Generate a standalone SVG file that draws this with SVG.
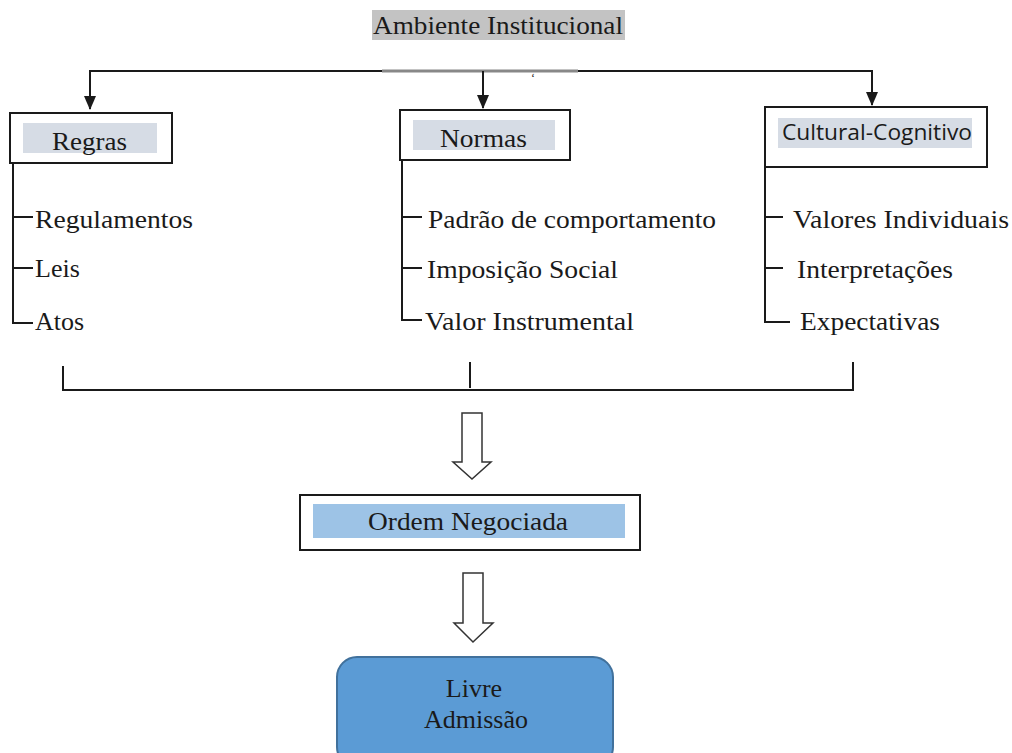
<svg xmlns="http://www.w3.org/2000/svg" width="1012" height="753" viewBox="0 0 1012 753">
<style>
.t{font-family:"Liberation Serif","Times New Roman",serif;font-size:26px;fill:#1a1a1a}
.s{font-family:"Open Sans","Liberation Sans",sans-serif;font-size:21px;fill:#1a1a1a}
.box{fill:#fff;stroke:#1a1a1a;stroke-width:2}
.ln{stroke:#1a1a1a;stroke-width:2;fill:none}
.hol{fill:#fff;stroke:#333;stroke-width:1.5;stroke-linejoin:miter}
</style>
<defs>
<marker id="ah" markerWidth="14" markerHeight="12" refX="13" refY="6" orient="auto" markerUnits="userSpaceOnUse" viewBox="0 0 14 12">
<path d="M0,0 L14,6 L0,12 Z" fill="#1a1a1a"/>
</marker>
</defs>
<rect width="1012" height="753" fill="#fff"/>
<g id="title">
<rect x="372" y="10" width="253" height="30" fill="#c3c3c3"/>
<text class="t" x="373" y="34" textLength="250" lengthAdjust="spacingAndGlyphs">Ambiente Institucional</text>
</g>
<g id="connectors">
<line class="ln" x1="89" y1="71" x2="873" y2="71"/>
<line x1="382" y1="71" x2="578" y2="71" stroke="#888" stroke-width="3"/>
<line class="ln" x1="90" y1="71" x2="90" y2="109" marker-end="url(#ah)"/>
<line class="ln" x1="483" y1="71" x2="483" y2="108" marker-end="url(#ah)"/>
<line class="ln" x1="872" y1="71" x2="872" y2="105" marker-end="url(#ah)"/>
<path class="ln" d="M13,163 V323 H33 M13,217 H33 M13,268 H33"/>
<path class="ln" d="M402,160 V320 H422 M402,217 H422 M402,268 H422"/>
<path class="ln" d="M765,167 V322 H790 M765,217 H783 M765,268 H783"/>
<path class="ln" d="M63,366 V390 H853 V362 M470,362 V388"/>
<path class="hol" d="M462,413 H482 V462 H491 L472,479 L453,462 H462 Z"/>
<path class="hol" d="M463,573 H483 V623 H493 L473,642 L454,623 H463 Z"/>
</g>
<text x="531" y="82" font-family="Liberation Serif,serif" font-size="12" fill="#1a1a1a">ʻ</text>
<g id="regras">
<rect class="box" x="10" y="113" width="162" height="50"/>
<rect x="23" y="123" width="134" height="30" fill="#d6dce5"/>
<text class="t" x="52" y="150" textLength="75" lengthAdjust="spacingAndGlyphs">Regras</text>
<text class="t" x="35" y="228" textLength="158" lengthAdjust="spacingAndGlyphs">Regulamentos</text>
<text class="t" x="35" y="277">Leis</text>
<text class="t" x="35" y="330">Atos</text>
</g>
<g id="normas">
<rect class="box" x="400" y="110" width="170" height="50"/>
<rect x="413" y="120" width="142" height="30" fill="#d6dce5"/>
<text class="t" x="440" y="147" textLength="87" lengthAdjust="spacingAndGlyphs">Normas</text>
<text class="t" x="428" y="228" textLength="288" lengthAdjust="spacingAndGlyphs">Padrão de comportamento</text>
<text class="t" x="427" y="278" textLength="191" lengthAdjust="spacingAndGlyphs">Imposição Social</text>
<text class="t" x="425" y="330" textLength="209" lengthAdjust="spacingAndGlyphs">Valor Instrumental</text>
</g>
<g id="cultural">
<rect class="box" x="765" y="107" width="222" height="60"/>
<rect x="778" y="118" width="194" height="30" fill="#d6dce5"/>
<text class="s" x="782" y="140" textLength="190" lengthAdjust="spacingAndGlyphs">Cultural-Cognitivo</text>
<text class="t" x="793" y="228" textLength="216" lengthAdjust="spacingAndGlyphs">Valores Individuais</text>
<text class="t" x="797" y="278" textLength="156" lengthAdjust="spacingAndGlyphs">Interpretações</text>
<text class="t" x="800" y="330" textLength="140" lengthAdjust="spacingAndGlyphs">Expectativas</text>
</g>
<g id="ordem">
<rect class="box" x="300" y="495" width="340" height="55"/>
<rect x="313" y="504" width="312" height="34" fill="#9dc3e6"/>
<text class="t" x="368" y="530" textLength="200" lengthAdjust="spacingAndGlyphs">Ordem Negociada</text>
</g>
<g id="livre">
<rect x="337" y="657" width="276" height="110" rx="20" ry="20" fill="#5b9bd5" stroke="#41719c" stroke-width="2"/>
<text class="t" x="474" y="697" text-anchor="middle">Livre</text>
<text class="t" x="476" y="728" text-anchor="middle">Admissão</text>
</g>
</svg>
